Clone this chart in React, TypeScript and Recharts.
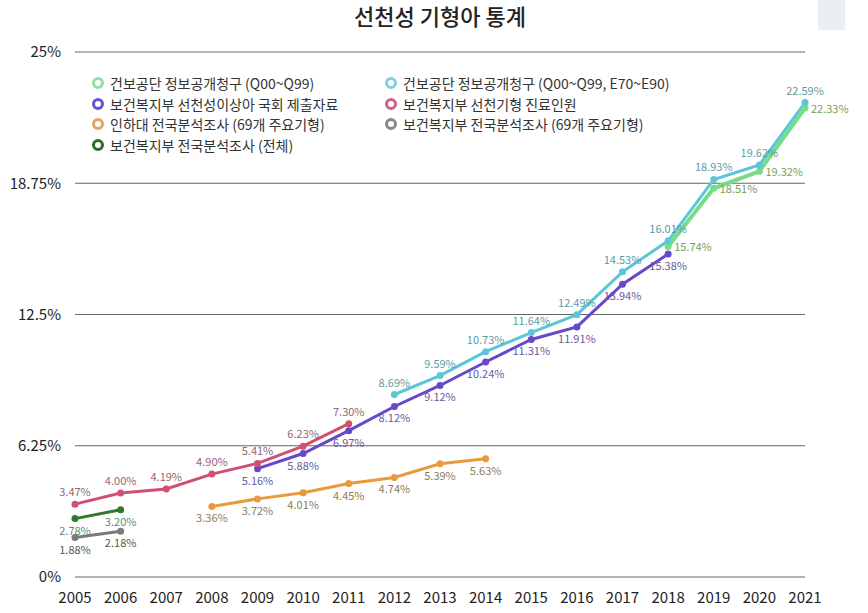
import { LineChart, Line, XAxis, YAxis, CartesianGrid, Legend, LabelList } from 'recharts'

const years = [2005, 2006, 2007, 2008, 2009, 2010, 2011, 2012, 2013, 2014, 2015, 2016, 2017, 2018, 2019, 2020, 2021]
const yTicks = [0, 6.25, 12.5, 18.75, 25]

// each series: first year + values (%)
const nhisQ = [15.74, 18.51, 19.32, 22.33] // 2018~
const nhisQE = [8.69, 9.59, 10.73, 11.64, 12.49, 14.53, 16.01, 18.93, 19.62, 22.59] // 2012~
const mohwAssembly = [5.16, 5.88, 6.97, 8.12, 9.12, 10.24, 11.31, 11.91, 13.94, 15.38] // 2009~
const mohwPatients = [3.47, 4.0, 4.19, 4.9, 5.41, 6.23, 7.3] // 2005~
const inha69 = [3.36, 3.72, 4.01, 4.45, 4.74, 5.39, 5.63] // 2008~
const mohw69 = [1.88, 2.18] // 2005~
const mohwAll = [2.78, 3.2] // 2005~

type Pos = 'top' | 'bottom' | 'right'

const series = [
  { key: 'nhisQ', name: '건보공단 정보공개청구 (Q00~Q99)', start: 2018, values: nhisQ, color: '#76dc86', ring: '#8fe0a4', label: '#7a9e5c', pos: 'right' as Pos, width: 4 },
  { key: 'nhisQE', name: '건보공단 정보공개청구 (Q00~Q99, E70~E90)', start: 2012, values: nhisQE, color: '#5cc6d8', ring: '#7fcfe0', label: '#5a9ca6', pos: 'top' as Pos, width: 3 },
  { key: 'mohwAssembly', name: '보건복지부 선천성이상아 국회 제출자료', start: 2009, values: mohwAssembly, color: '#6648c8', ring: '#6a4fcf', label: '#6a5aa0', pos: 'bottom' as Pos, width: 3 },
  { key: 'mohwPatients', name: '보건복지부 선천기형 진료인원', start: 2005, values: mohwPatients, color: '#d1506f', ring: '#d06080', label: '#946478', pos: 'top' as Pos, width: 3 },
  { key: 'inha69', name: '인하대 전국분석조사 (69개 주요기형)', start: 2008, values: inha69, color: '#e99a3c', ring: '#e2a262', label: '#8c7c58', pos: 'bottom' as Pos, width: 3 },
  { key: 'mohw69', name: '보건복지부 전국분석조사 (69개 주요기형)', start: 2005, values: mohw69, color: '#7a7a7a', ring: '#888888', label: '#555555', pos: 'bottom' as Pos, width: 3 },
  { key: 'mohwAll', name: '보건복지부 전국분석조사 (전체)', start: 2005, values: mohwAll, color: '#2f7a2a', ring: '#2f6a2a', label: '#5a8c80', pos: 'bottom' as Pos, width: 3 },
]

const legendCols = [
  ['nhisQ', 'mohwAssembly', 'inha69', 'mohwAll'],
  ['nhisQE', 'mohwPatients', 'mohw69'],
]

const data = years.map((year) => {
  const row: Record<string, number | null> = { year }
  series.forEach((s) => {
    const i = year - s.start
    row[s.key] = i >= 0 && i < s.values.length ? s.values[i] : null
  })
  return row
})

const font = '"Noto Sans CJK KR", "Noto Sans", sans-serif'

const makeLabel = (pos: Pos, color: string) => (props: any) => {
  const { x, y, value } = props
  if (value == null) return null
  const dx = pos === 'right' ? 6 : 0
  const dy = pos === 'top' ? -13 : pos === 'bottom' ? 11 : 0
  return (
    <text
      x={x + dx}
      y={y + dy}
      fill={color}
      fontSize={11}
      fontFamily={font}
      textAnchor={pos === 'right' ? 'start' : 'middle'}
      dominantBaseline="central"
    >
      {Number(value).toFixed(2)}%
    </text>
  )
}

function ChartLegend() {
  return (
    <div style={{ display: 'flex', fontFamily: font, fontSize: 14, color: '#333' }}>
      {legendCols.map((col, ci) => (
        <div key={ci} style={{ width: ci === 0 ? 293 : 360 }}>
          {col.map((k) => {
            const s = series.find((d) => d.key === k)!
            return (
              <div key={k} style={{ display: 'flex', alignItems: 'center', height: 20.5, whiteSpace: 'nowrap' }}>
                <span
                  style={{
                    display: 'inline-block',
                    width: 6,
                    height: 6,
                    borderRadius: '50%',
                    border: `3px solid ${s.ring}`,
                    marginRight: 6,
                  }}
                />
                {s.name}
              </div>
            )
          })}
        </div>
      ))}
    </div>
  )
}

export default function App() {
  return (
    <div style={{ position: 'absolute', left: 0, top: 0, width: 868, height: 613, background: '#fff' }}>
      <div
        style={{
          position: 'absolute',
          top: -1,
          left: 0,
          width: 880,
          textAlign: 'center',
          fontFamily: font,
          fontSize: 22,
          fontWeight: 500,
          color: '#222',
        }}
      >
        선천성 기형아 통계
      </div>
      <div style={{ position: 'absolute', left: 818, top: 0, width: 27, height: 30, background: '#eceef5' }} />
      <LineChart width={868} height={613} data={data} margin={{ top: 52, right: 63, bottom: 6, left: 0 }}>
        <CartesianGrid vertical={false} stroke="#666" />
        <XAxis
          dataKey="year"
          axisLine={false}
          tickLine={false}
          interval={0}
          tickMargin={9}
          tick={{ fill: '#222', fontSize: 15, fontFamily: font }}
        />
        <YAxis
          width={75}
          domain={[0, 25]}
          ticks={yTicks}
          axisLine={false}
          tickLine={false}
          tickMargin={8}
          tickFormatter={(v) => `${v}%`}
          tick={{ fill: '#222', fontSize: 15, fontFamily: font }}
        />
        <Legend
          layout="vertical"
          align="center"
          verticalAlign="middle"
          wrapperStyle={{ top: 73, left: 92 }}
          content={() => <ChartLegend />}
        />
        {series.map((s) => (
          <Line
            key={s.key}
            dataKey={s.key}
            name={s.name}
            stroke={s.color}
            strokeWidth={s.width}
            dot={{ r: 3.5, fill: s.color, stroke: s.color, strokeWidth: 0 }}
            activeDot={false}
            isAnimationActive={false}
          >
            <LabelList dataKey={s.key} content={makeLabel(s.pos, s.label)} />
          </Line>
        ))}
      </LineChart>
    </div>
  )
}
